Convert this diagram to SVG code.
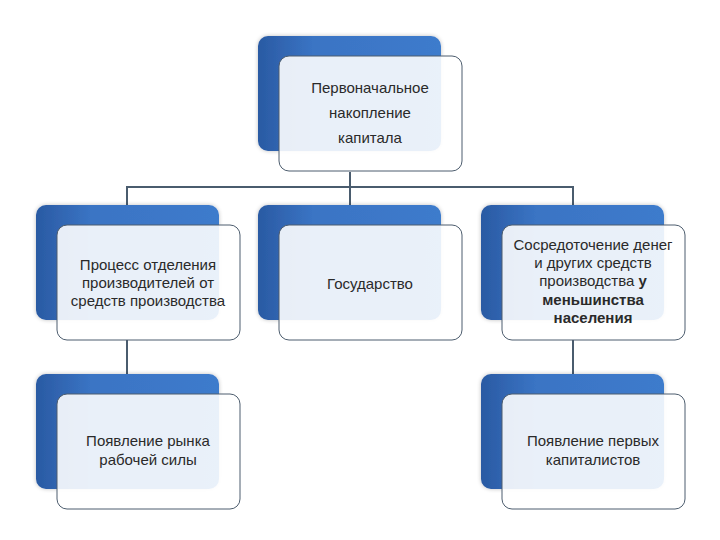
<svg xmlns="http://www.w3.org/2000/svg" width="720" height="540" viewBox="0 0 720 540">
<defs>
<linearGradient id="blue" x1="0" y1="0" x2="1" y2="0">
<stop offset="0" stop-color="#2a5aa3"/>
<stop offset="0.3" stop-color="#3a74c4"/>
<stop offset="1" stop-color="#3e7bcc"/>
</linearGradient>
<filter id="glow" x="-10%" y="-10%" width="120%" height="120%">
<feGaussianBlur in="SourceAlpha" stdDeviation="2"/>
<feComponentTransfer><feFuncA type="linear" slope="0.25"/></feComponentTransfer>
<feMerge><feMergeNode/><feMergeNode in="SourceGraphic"/></feMerge>
</filter>
</defs>
<style>
.back{fill:url(#blue);filter:url(#glow)}
.front{fill:#ffffff;fill-opacity:0.89;stroke:#4d5d6e;stroke-width:1}
.conn{fill:none;stroke:#4a5c6e;stroke-width:2}
text{font-family:"Liberation Sans",Arial,sans-serif;font-size:15px;fill:#2a2a2a;text-anchor:middle}
.b{font-weight:bold}
</style>
<g id="connectors">
<path class="conn" d="M350 172 V187 M127 205 V187 H573 V205 M350 187 V205"/>
<path class="conn" d="M127 340 V375"/>
<path class="conn" d="M573 340 V375"/>
</g>
<g id="n-top">
<rect class="back" x="258" y="36" width="183" height="115" rx="10"/>
<rect class="front" x="279" y="56" width="183" height="115" rx="10"/>
<text x="370" y="93">Первоначальное</text>
<text x="370" y="118">накопление</text>
<text x="370" y="143">капитала</text>
</g>
<g id="n-process">
<rect class="back" x="36" y="205" width="183" height="115" rx="10"/>
<rect class="front" x="57" y="225" width="183" height="115" rx="10"/>
<text x="148" y="270">Процесс отделения</text>
<text x="148" y="288">производителей от</text>
<text x="148" y="306">средств производства</text>
</g>
<g id="n-state">
<rect class="back" x="258" y="205" width="183" height="115" rx="10"/>
<rect class="front" x="279" y="225" width="183" height="115" rx="10"/>
<text x="370" y="289">Государство</text>
</g>
<g id="n-concentration">
<rect class="back" x="481" y="205" width="183" height="115" rx="10"/>
<rect class="front" x="502" y="225" width="183" height="115" rx="10"/>
<text x="593" y="250">Сосредоточение денег</text>
<text x="593" y="268">и других средств</text>
<text x="593" y="286">производства <tspan class="b">у</tspan></text>
<text x="593" y="305" class="b">меньшинства</text>
<text x="593" y="323" class="b">населения</text>
</g>
<g id="n-labor">
<rect class="back" x="36" y="374" width="183" height="115" rx="10"/>
<rect class="front" x="57" y="394" width="183" height="115" rx="10"/>
<text x="148" y="446">Появление рынка</text>
<text x="148" y="465">рабочей силы</text>
</g>
<g id="n-capitalists">
<rect class="back" x="481" y="374" width="183" height="115" rx="10"/>
<rect class="front" x="502" y="394" width="183" height="115" rx="10"/>
<text x="593" y="446">Появление первых</text>
<text x="593" y="465">капиталистов</text>
</g>
</svg>
